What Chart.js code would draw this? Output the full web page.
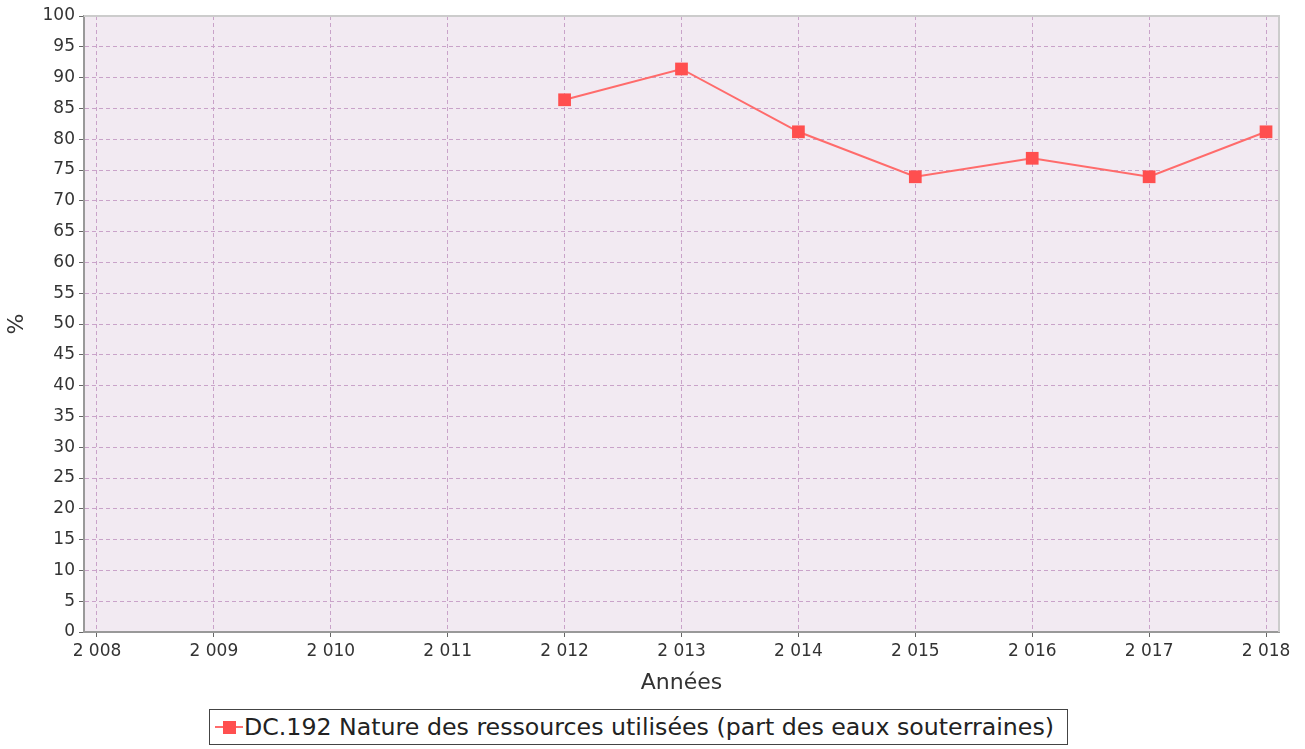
<!DOCTYPE html>
<html lang="fr">
<head>
  <meta charset="UTF-8">
  <title>DC.192 Nature des ressources utilisées</title>
  <script src="https://cdn.jsdelivr.net/npm/chart.js"></script>
  <style>
    body {
      margin: 0;
      background: #fff;
      font-family: 'DejaVu Sans', sans-serif;
    }
    .wrap {
      position: relative;
      width: 1305px;
      height: 749px;
    }
    #chart {
      position: absolute;
      left: 0;
      top: 0;
    }
    .legend {
      position: absolute;
      left: 209px;
      top: 709px;
      width: 857px;
      height: 34px;
      border: 1.5px solid #444;
      box-sizing: content-box;
      display: flex;
      align-items: center;
      font-size: 23.7px;
      color: #222;
      white-space: nowrap;
    }
    .legend .sym {
      position: relative;
      width: 28px;
      height: 13px;
      margin-left: 5px;
      margin-right: 1px;
    }
    .legend .sym::before {
      content: '';
      position: absolute;
      left: 0;
      right: 0;
      top: 5.5px;
      height: 2px;
      background: #ff6b6b;
    }
    .legend .sym::after {
      content: '';
      position: absolute;
      left: 8px;
      top: 0;
      width: 13px;
      height: 13px;
      background: #ff4f4f;
    }
  </style>
</head>
<body>
  <div class="wrap">
    <canvas id="chart" width="1305" height="700"></canvas>
    <div class="legend"><span class="sym"></span><span id="legendText"></span></div>
  </div>

  <script>
    const seriesName = 'DC.192 Nature des ressources utilisées (part des eaux souterraines)';
    const years = [2012, 2013, 2014, 2015, 2016, 2017, 2018];
    const values = [86.4, 91.4, 81.2, 73.9, 76.9, 73.9, 81.2];
    const xTicks = [2008, 2009, 2010, 2011, 2012, 2013, 2014, 2015, 2016, 2017, 2018];

    document.getElementById('legendText').textContent = seriesName;

    // plot background + light top/right frame
    const plotFrame = {
      id: 'plotFrame',
      beforeDraw(chart) {
        const a = chart.chartArea, ctx = chart.ctx;
        ctx.save();
        ctx.fillStyle = '#f2eaf2';
        ctx.fillRect(a.left, a.top, a.right - a.left, a.bottom - a.top);
        ctx.restore();
      },
      afterDatasetsDraw(chart) {
        const a = chart.chartArea, ctx = chart.ctx;
        ctx.save();
        ctx.strokeStyle = '#cccccc';
        ctx.lineWidth = 2;
        ctx.beginPath();
        ctx.moveTo(a.left, a.top);
        ctx.lineTo(a.right, a.top);
        ctx.lineTo(a.right, a.bottom);
        ctx.stroke();
        ctx.restore();
      }
    };

    const gridOpts = {
      color: '#c9a3c9',
      lineWidth: 1,
      tickColor: '#666',
      tickLength: 5,
      tickBorderDash: []
    };

    new Chart(document.getElementById('chart'), {
      type: 'line',
      data: {
        datasets: [{
          label: seriesName,
          data: years.map((y, i) => ({ x: y, y: values[i] })),
          borderColor: '#ff6b6b',
          backgroundColor: '#ff4f4f',
          borderWidth: 2,
          pointStyle: 'rect',
          pointRadius: 9,
          pointHoverRadius: 9,
          pointBorderWidth: 0,
          fill: false,
          tension: 0
        }]
      },
      options: {
        responsive: false,
        animation: false,
        layout: { padding: { top: 16, right: 26, left: 0, bottom: 0 } },
        plugins: {
          legend: { display: false },
          tooltip: { enabled: false }
        },
        scales: {
          x: {
            type: 'linear',
            min: 2008 - 0.111,
            max: 2018 + 0.111,
            afterBuildTicks: s => { s.ticks = xTicks.map(v => ({ value: v })); },
            afterFit: s => { s.height = 68; },
            grid: gridOpts,
            border: { color: '#999', width: 2, dash: [4, 3] },
            ticks: {
              color: '#333',
              font: { family: 'DejaVu Sans', size: 17 },
              padding: 4,
              maxRotation: 0,
              callback: v => String(v).replace(/\B(?=(\d{3})+$)/, ' ')
            },
            title: {
              display: true,
              text: 'Années',
              color: '#333',
              font: { family: 'DejaVu Sans', size: 22 },
              padding: { top: 0, bottom: 4 }
            }
          },
          y: {
            min: 0,
            max: 100,
            afterFit: s => { s.width = 84; },
            grid: gridOpts,
            border: { color: '#999', width: 2, dash: [4, 3] },
            ticks: {
              stepSize: 5,
              color: '#333',
              font: { family: 'DejaVu Sans', size: 17 },
              padding: 4
            },
            title: {
              display: true,
              text: '%',
              color: '#333',
              font: { family: 'DejaVu Sans', size: 22 },
              padding: { top: 4, bottom: 0 }
            }
          }
        }
      },
      plugins: [plotFrame]
    });
  </script>
</body>
</html>
